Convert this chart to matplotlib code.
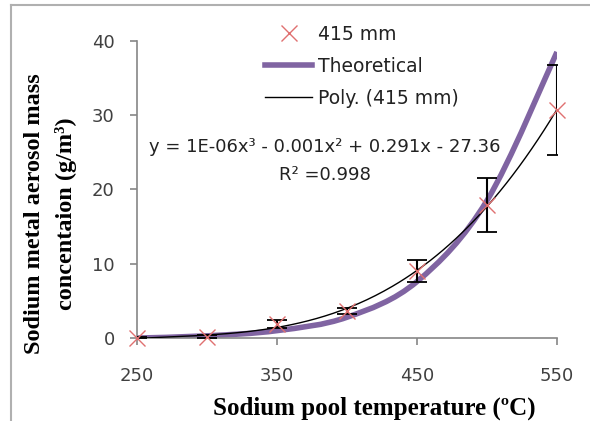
import numpy as np
import matplotlib
matplotlib.use('Agg')
import matplotlib.pyplot as plt
from matplotlib.path import Path
from matplotlib.patches import PathPatch
from matplotlib.lines import Line2D

# measured aerosol concentration, 415 mm
temps = [250, 300, 350, 400, 450, 500, 550]
conc_415 = [0.0, 0.15, 1.9, 3.7, 9.0, 17.9, 30.7]
err_415 = [0.1, 0.2, 0.5, 0.4, 1.5, 3.6, 6.1]
# theoretical curve
conc_theory = [0.0, 0.3, 1.0, 2.8, 7.6, 18.5, 38.5]

eq_text = 'y = 1E-06x\u00b3 - 0.001x\u00b2 + 0.291x - 27.36'
r2_text = 'R\u00b2 =0.998'

tick_font = 'DejaVu Sans'
label_font = 'Liberation Serif'
grey = '#868686'
purple = '#8064a2'
red = '#e07070'


def smooth_path(xs, ys):
    # excel style smoothed line (catmull-rom -> bezier)
    xs = np.asarray(xs, float)
    ys = np.asarray(ys, float)
    verts = [(xs[0], ys[0])]
    codes = [Path.MOVETO]
    n = len(xs)
    for i in range(n - 1):
        p0 = (xs[max(i - 1, 0)], ys[max(i - 1, 0)])
        p1 = (xs[i], ys[i])
        p2 = (xs[i + 1], ys[i + 1])
        p3 = (xs[min(i + 2, n - 1)], ys[min(i + 2, n - 1)])
        c1 = (p1[0] + (p2[0] - p0[0]) / 6, p1[1] + (p2[1] - p0[1]) / 6)
        c2 = (p2[0] - (p3[0] - p1[0]) / 6, p2[1] - (p3[1] - p1[1]) / 6)
        verts += [c1, c2, p2]
        codes += [Path.CURVE4] * 3
    return Path(verts, codes)


fig = plt.figure(figsize=(5.9, 4.21), dpi=100)
ax = fig.add_axes([0.232, 0.197, 0.712, 0.706])

# outer frame (left and top only visible)
fig.add_artist(Line2D([0.019, 0.019], [0, 0.988], color='#b0b0b0', lw=1.5, transform=fig.transFigure))
fig.add_artist(Line2D([0.019, 1.0], [0.988, 0.988], color='#b0b0b0', lw=1.5, transform=fig.transFigure))

# theoretical
ax.add_patch(PathPatch(smooth_path(temps, conc_theory), facecolor='none',
                       edgecolor=purple, lw=4, zorder=2))

# poly trendline
coef = np.polyfit(temps, conc_415, 3)
xf = np.linspace(250, 550, 200)
ax.plot(xf, np.polyval(coef, xf), color='black', lw=1, zorder=3)

ax.errorbar(temps, conc_415, yerr=err_415, fmt='none', ecolor='black',
            elinewidth=1.5, capsize=7.5, capthick=1.3, zorder=4)
ax.plot(temps, conc_415, 'x', color=red, ms=12, mew=1.0, zorder=5, clip_on=False)

ax.set_xlim(250, 550)
ax.set_ylim(0, 40)
ax.set_xticks([250, 350, 450, 550])
ax.set_yticks([0, 10, 20, 30, 40])
for s in ['top', 'right']:
    ax.spines[s].set_visible(False)
for s in ['left', 'bottom']:
    ax.spines[s].set_color(grey)
    ax.spines[s].set_linewidth(1.2)
ax.tick_params(direction='out', length=5, color=grey, width=1.2,
               labelsize=13, labelcolor='#404040')
ax.tick_params(axis='x', pad=16)
ax.tick_params(axis='y', pad=11)
for lab in ax.get_xticklabels() + ax.get_yticklabels():
    lab.set_fontfamily(tick_font)

fig.text(0.634, 0.031, 'Sodium pool temperature (\u00baC)', fontfamily=label_font,
         fontweight='bold', fontsize=18, ha='center', va='center')
fig.text(0.086, 0.493, 'Sodium metal aerosol mass\nconcentaion (g/m\u00b3)', fontfamily=label_font,
         fontweight='bold', fontsize=17.5, ha='center', va='center', rotation=90,
         linespacing=1.6, multialignment='center')

# legend
handles = [Line2D([], [], ls='none', marker='x', color=red, ms=12, mew=1.0),
           Line2D([], [], color=purple, lw=4),
           Line2D([], [], color='black', lw=1)]
leg = ax.legend(handles, ['415 mm', 'Theoretical', 'Poly. (415 mm)'],
                loc='upper left', bbox_to_anchor=(0.265, 1.11), frameon=False,
                prop={'family': tick_font, 'size': 13.5}, handlelength=2.5,
                handletextpad=0.3, labelspacing=0.68)
for t in leg.get_texts():
    t.set_color('#222222')

ax.text(0.448, 0.643, eq_text, transform=ax.transAxes, ha='center', va='center',
        fontsize=13, fontfamily=tick_font, color='#222222')
ax.text(0.448, 0.549, r2_text, transform=ax.transAxes, ha='center', va='center',
        fontsize=13, fontfamily=tick_font, color='#222222')

fig.savefig('out.png', dpi=100)
